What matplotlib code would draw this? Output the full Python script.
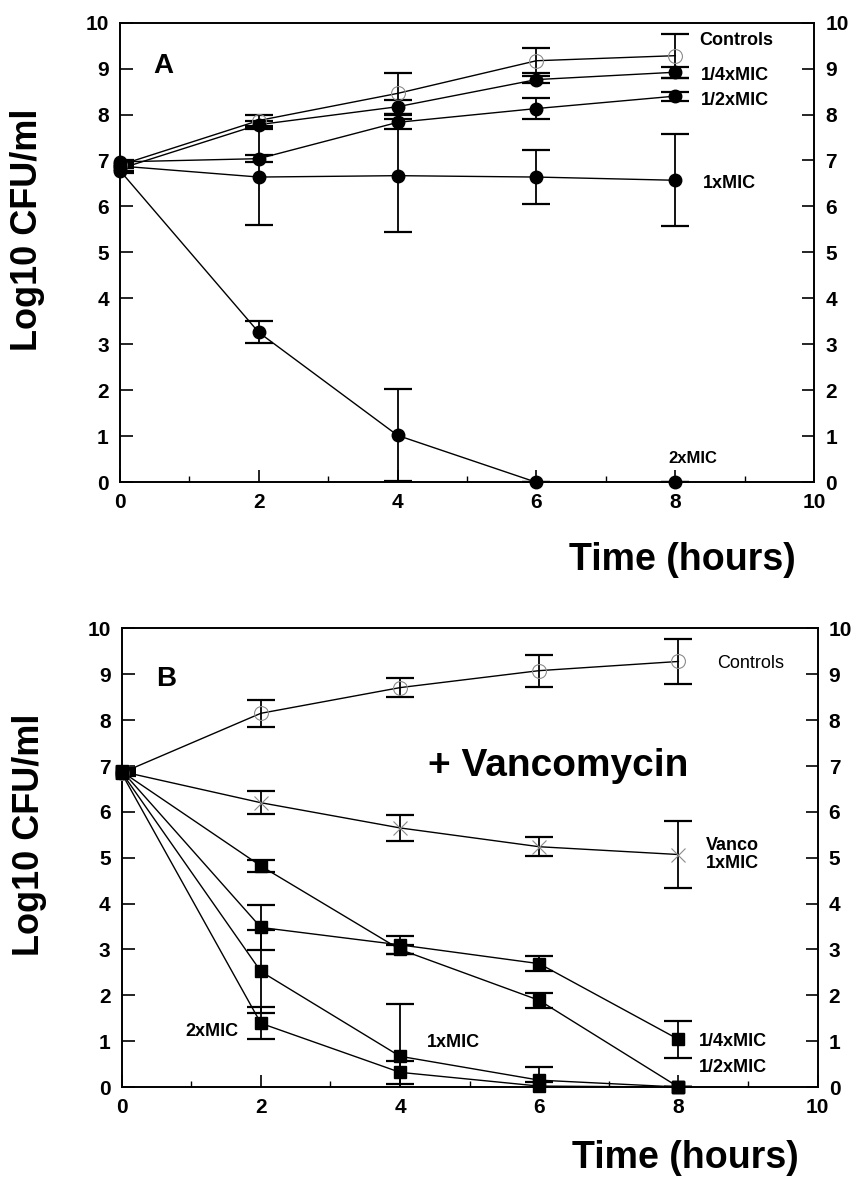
import numpy as np
import matplotlib
matplotlib.use('Agg')
import matplotlib.pyplot as plt
from matplotlib.ticker import MultipleLocator

plt.rcParams['font.family'] = ['Liberation Sans', 'DejaVu Sans']
plt.rcParams['font.weight'] = 'bold'

# sampling times (hours)
t = [0, 2, 4, 6, 8]

# panel A
ctrl_a = [6.90, 7.87, 8.46, 9.17, 9.28]
ctrl_a_err = [0.05, 0.13, 0.45, 0.27, 0.48]
quarter_a = [6.82, 7.78, 8.17, 8.76, 8.92]
quarter_a_err = [0.05, 0.08, 0.15, 0.08, 0.12]
half_a = [6.97, 7.04, 7.83, 8.13, 8.40]
half_a_err = [0.05, 0.08, 0.15, 0.22, 0.10]
one_a = [6.88, 6.64, 6.67, 6.64, 6.57]
one_a_err = [0.05, 1.05, 1.23, 0.58, 1.00]
two_a = [6.78, 3.26, 1.02, 0.0, 0.0]
two_a_err = [0.05, 0.24, 1.00, 0.0, 0.0]

# panel B (+ vancomycin)
ctrl_b = [6.85, 8.15, 8.71, 9.08, 9.28]
ctrl_b_err = [0.05, 0.30, 0.20, 0.35, 0.50]
vanco_b = [6.88, 6.20, 5.65, 5.24, 5.07]
vanco_b_err = [0.05, 0.25, 0.29, 0.21, 0.73]
quarter_b = [6.90, 3.48, 3.10, 2.69, 1.04]
quarter_b_err = [0.05, 0.50, 0.20, 0.16, 0.40]
half_b = [6.88, 4.82, 3.00, 1.89, 0.0]
half_b_err = [0.05, 0.14, 0.10, 0.16, 0.0]
one_b = [6.86, 2.52, 0.67, 0.15, 0.0]
one_b_err = [0.05, 0.90, 1.15, 0.28, 0.0]
two_b = [6.84, 1.39, 0.32, 0.02, 0.0]
two_b_err = [0.05, 0.35, 0.25, 0.10, 0.0]


def draw(ax, y, err, kind):
    if kind == 'open':
        mk = dict(marker='o', ms=10, mfc='none', mec='#8c8c8c', mew=0.8)
    elif kind == 'cross':
        mk = dict(marker='x', ms=10, mec='#8c8c8c', mew=0.8)
    elif kind == 'square':
        mk = dict(marker='s', ms=8, mfc='k', mec='k')
    else:
        mk = dict(marker='o', ms=9, mfc='k', mec='k')
    # line + error bars, clipped to the frame
    ax.errorbar(t, y, yerr=err, color='k', lw=1.0, elinewidth=1.3,
                capsize=10, capthick=1.6, zorder=3)
    # markers drawn on top, not clipped so points on the axis stay whole
    ax.plot(t, y, ls='none', clip_on=False, zorder=4, **mk)


def custom_ax(ax, xlab_y):
    ax.set_xlim(0, 10)
    ax.set_ylim(0, 10)
    ax.xaxis.set_major_locator(MultipleLocator(2))
    ax.xaxis.set_minor_locator(MultipleLocator(1))
    ax.yaxis.set_major_locator(MultipleLocator(1))
    ax.tick_params(axis='both', which='major', direction='in', length=9,
                   width=1.2, labelsize=15, pad=8)
    ax.tick_params(axis='x', which='minor', direction='in', length=4, width=1.0)
    ax.tick_params(axis='y', right=True, labelright=True)
    for lab in ax.get_xticklabels() + ax.get_yticklabels():
        lab.set_fontweight('bold')
    for s in ax.spines.values():
        s.set_linewidth(1.4)
    ax.set_ylabel('Log10 CFU/ml', fontsize=26, fontweight='bold')
    ax.yaxis.set_label_coords(-0.108, 0.55)
    ax.set_xlabel('Time (hours)', fontsize=27, fontweight='bold')
    ax.xaxis.set_label_coords(0.81, xlab_y)


fig = plt.figure(figsize=(8.57, 11.88), dpi=100)

# --- A ---
ax1 = fig.add_axes([0.140, 0.594, 0.810, 0.387])
draw(ax1, ctrl_a, ctrl_a_err, 'open')
draw(ax1, quarter_a, quarter_a_err, 'dot')
draw(ax1, half_a, half_a_err, 'dot')
draw(ax1, one_a, one_a_err, 'dot')
draw(ax1, two_a, two_a_err, 'dot')
custom_ax(ax1, -0.13)
ax1.text(0.48, 9.05, 'A', fontsize=20, fontweight='bold', va='center')
ax1.text(8.34, 9.61, 'Controls', fontsize=13, fontweight='bold', va='center')
ax1.text(8.37, 8.85, '1/4xMIC', fontsize=13, fontweight='bold', va='center')
ax1.text(8.37, 8.30, '1/2xMIC', fontsize=13, fontweight='bold', va='center')
ax1.text(8.40, 6.50, '1xMIC', fontsize=13, fontweight='bold', va='center')
ax1.text(7.90, 0.52, '2xMIC', fontsize=12, fontweight='bold', va='center')

# --- B ---
ax2 = fig.add_axes([0.142, 0.085, 0.812, 0.386])
draw(ax2, ctrl_b, ctrl_b_err, 'open')
draw(ax2, vanco_b, vanco_b_err, 'cross')
draw(ax2, quarter_b, quarter_b_err, 'square')
draw(ax2, half_b, half_b_err, 'square')
draw(ax2, one_b, one_b_err, 'square')
draw(ax2, two_b, two_b_err, 'square')
custom_ax(ax2, -0.115)
ax2.text(0.50, 8.90, 'B', fontsize=20, fontweight='bold', va='center')
ax2.text(6.27, 7.00, '+ Vancomycin', fontsize=28, fontweight='bold',
         ha='center', va='center')
ax2.text(8.55, 9.24, 'Controls', fontsize=13, fontweight='normal', va='center')
ax2.text(8.39, 5.07, 'Vanco\n1xMIC', fontsize=13, fontweight='bold',
         va='center', linespacing=1.1)
ax2.text(8.30, 1.00, '1/4xMIC', fontsize=13, fontweight='bold', va='center')
ax2.text(8.30, 0.43, '1/2xMIC', fontsize=13, fontweight='bold', va='center')
ax2.text(0.92, 1.22, '2xMIC', fontsize=13, fontweight='bold', va='center')
ax2.text(4.39, 0.98, '1xMIC', fontsize=13, fontweight='bold', va='center')

plt.savefig('out.png', dpi=100)
